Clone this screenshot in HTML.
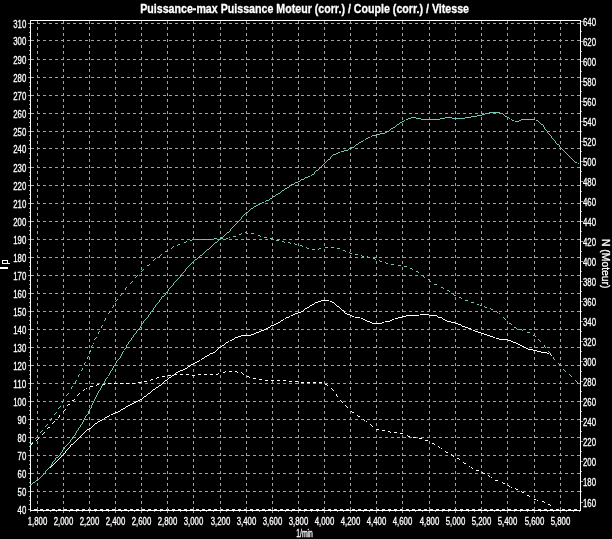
<!DOCTYPE html><html><head><meta charset="utf-8"><style>html,body{margin:0;padding:0;background:#000;}svg{display:block;}</style></head><body>
<svg width="612" height="539" viewBox="0 0 612 539" style="font-family:'Liberation Sans', sans-serif">
<rect width="612" height="539" fill="#000"/>
<g shape-rendering="crispEdges" stroke="#a0a0a0" stroke-width="1" stroke-dasharray="3 3" fill="none">
<line x1="31" y1="491.5" x2="580" y2="491.5"/>
<line x1="31" y1="473.5" x2="580" y2="473.5"/>
<line x1="31" y1="455.5" x2="580" y2="455.5"/>
<line x1="31" y1="437.5" x2="580" y2="437.5"/>
<line x1="31" y1="419.5" x2="580" y2="419.5"/>
<line x1="31" y1="401.5" x2="580" y2="401.5"/>
<line x1="31" y1="383.5" x2="580" y2="383.5"/>
<line x1="31" y1="365.5" x2="580" y2="365.5"/>
<line x1="31" y1="347.5" x2="580" y2="347.5"/>
<line x1="31" y1="329.5" x2="580" y2="329.5"/>
<line x1="31" y1="311.5" x2="580" y2="311.5"/>
<line x1="31" y1="293.5" x2="580" y2="293.5"/>
<line x1="31" y1="275.5" x2="580" y2="275.5"/>
<line x1="31" y1="257.5" x2="580" y2="257.5"/>
<line x1="31" y1="239.5" x2="580" y2="239.5"/>
<line x1="31" y1="221.5" x2="580" y2="221.5"/>
<line x1="31" y1="203.5" x2="580" y2="203.5"/>
<line x1="31" y1="185.5" x2="580" y2="185.5"/>
<line x1="31" y1="167.5" x2="580" y2="167.5"/>
<line x1="31" y1="148.5" x2="580" y2="148.5"/>
<line x1="31" y1="131.5" x2="580" y2="131.5"/>
<line x1="31" y1="113.5" x2="580" y2="113.5"/>
<line x1="31" y1="95.5" x2="580" y2="95.5"/>
<line x1="31" y1="77.5" x2="580" y2="77.5"/>
<line x1="31" y1="59.5" x2="580" y2="59.5"/>
<line x1="31" y1="40.5" x2="580" y2="40.5"/>
<line x1="31" y1="23.5" x2="580" y2="23.5"/>
<line x1="34" y1="509.5" x2="580" y2="509.5" stroke="#e8e8e8"/>
<line x1="37.5" y1="21" x2="37.5" y2="510"/>
<line x1="63.5" y1="21" x2="63.5" y2="510"/>
<line x1="89.5" y1="21" x2="89.5" y2="510"/>
<line x1="115.5" y1="21" x2="115.5" y2="510"/>
<line x1="141.5" y1="21" x2="141.5" y2="510"/>
<line x1="167.5" y1="21" x2="167.5" y2="510"/>
<line x1="193.5" y1="21" x2="193.5" y2="510"/>
<line x1="220.5" y1="21" x2="220.5" y2="510"/>
<line x1="246.5" y1="21" x2="246.5" y2="510"/>
<line x1="272.5" y1="21" x2="272.5" y2="510"/>
<line x1="298.5" y1="21" x2="298.5" y2="510"/>
<line x1="324.5" y1="21" x2="324.5" y2="510"/>
<line x1="350.5" y1="21" x2="350.5" y2="510"/>
<line x1="376.5" y1="21" x2="376.5" y2="510"/>
<line x1="402.5" y1="21" x2="402.5" y2="510"/>
<line x1="429.5" y1="21" x2="429.5" y2="510"/>
<line x1="455.5" y1="21" x2="455.5" y2="510"/>
<line x1="481.5" y1="21" x2="481.5" y2="510"/>
<line x1="507.5" y1="21" x2="507.5" y2="510"/>
<line x1="534.5" y1="21" x2="534.5" y2="510"/>
<line x1="560.5" y1="21" x2="560.5" y2="510"/>
</g>
<g shape-rendering="crispEdges" stroke="#ffffff" stroke-width="1" fill="none">
<line x1="30" y1="20.5" x2="581" y2="20.5"/>
<line x1="30" y1="510.5" x2="581" y2="510.5"/>
<line x1="30.5" y1="20" x2="30.5" y2="511"/>
<line x1="580.5" y1="20" x2="580.5" y2="511"/>
</g>
<g shape-rendering="crispEdges" stroke="#a0a0a0" stroke-width="1" fill="none">
<line x1="28" y1="509.5" x2="30" y2="509.5"/>
<line x1="29" y1="504.5" x2="30" y2="504.5"/>
<line x1="29" y1="500.5" x2="30" y2="500.5"/>
<line x1="29" y1="496.5" x2="30" y2="496.5"/>
<line x1="28" y1="491.5" x2="30" y2="491.5"/>
<line x1="29" y1="486.5" x2="30" y2="486.5"/>
<line x1="29" y1="482.5" x2="30" y2="482.5"/>
<line x1="29" y1="478.5" x2="30" y2="478.5"/>
<line x1="28" y1="473.5" x2="30" y2="473.5"/>
<line x1="29" y1="468.5" x2="30" y2="468.5"/>
<line x1="29" y1="464.5" x2="30" y2="464.5"/>
<line x1="29" y1="460.5" x2="30" y2="460.5"/>
<line x1="28" y1="455.5" x2="30" y2="455.5"/>
<line x1="29" y1="450.5" x2="30" y2="450.5"/>
<line x1="29" y1="446.5" x2="30" y2="446.5"/>
<line x1="29" y1="442.5" x2="30" y2="442.5"/>
<line x1="28" y1="437.5" x2="30" y2="437.5"/>
<line x1="29" y1="432.5" x2="30" y2="432.5"/>
<line x1="29" y1="428.5" x2="30" y2="428.5"/>
<line x1="29" y1="424.5" x2="30" y2="424.5"/>
<line x1="28" y1="419.5" x2="30" y2="419.5"/>
<line x1="29" y1="414.5" x2="30" y2="414.5"/>
<line x1="29" y1="410.5" x2="30" y2="410.5"/>
<line x1="29" y1="406.5" x2="30" y2="406.5"/>
<line x1="28" y1="401.5" x2="30" y2="401.5"/>
<line x1="29" y1="396.5" x2="30" y2="396.5"/>
<line x1="29" y1="392.5" x2="30" y2="392.5"/>
<line x1="29" y1="388.5" x2="30" y2="388.5"/>
<line x1="28" y1="383.5" x2="30" y2="383.5"/>
<line x1="29" y1="378.5" x2="30" y2="378.5"/>
<line x1="29" y1="374.5" x2="30" y2="374.5"/>
<line x1="29" y1="370.5" x2="30" y2="370.5"/>
<line x1="28" y1="365.5" x2="30" y2="365.5"/>
<line x1="29" y1="360.5" x2="30" y2="360.5"/>
<line x1="29" y1="356.5" x2="30" y2="356.5"/>
<line x1="29" y1="352.5" x2="30" y2="352.5"/>
<line x1="28" y1="347.5" x2="30" y2="347.5"/>
<line x1="29" y1="342.5" x2="30" y2="342.5"/>
<line x1="29" y1="338.5" x2="30" y2="338.5"/>
<line x1="29" y1="334.5" x2="30" y2="334.5"/>
<line x1="28" y1="329.5" x2="30" y2="329.5"/>
<line x1="29" y1="324.5" x2="30" y2="324.5"/>
<line x1="29" y1="320.5" x2="30" y2="320.5"/>
<line x1="29" y1="316.5" x2="30" y2="316.5"/>
<line x1="28" y1="311.5" x2="30" y2="311.5"/>
<line x1="29" y1="306.5" x2="30" y2="306.5"/>
<line x1="29" y1="302.5" x2="30" y2="302.5"/>
<line x1="29" y1="298.5" x2="30" y2="298.5"/>
<line x1="28" y1="293.5" x2="30" y2="293.5"/>
<line x1="29" y1="288.5" x2="30" y2="288.5"/>
<line x1="29" y1="284.5" x2="30" y2="284.5"/>
<line x1="29" y1="280.5" x2="30" y2="280.5"/>
<line x1="28" y1="275.5" x2="30" y2="275.5"/>
<line x1="29" y1="270.5" x2="30" y2="270.5"/>
<line x1="29" y1="266.5" x2="30" y2="266.5"/>
<line x1="29" y1="262.5" x2="30" y2="262.5"/>
<line x1="28" y1="257.5" x2="30" y2="257.5"/>
<line x1="29" y1="252.5" x2="30" y2="252.5"/>
<line x1="29" y1="248.5" x2="30" y2="248.5"/>
<line x1="29" y1="244.5" x2="30" y2="244.5"/>
<line x1="28" y1="239.5" x2="30" y2="239.5"/>
<line x1="29" y1="234.5" x2="30" y2="234.5"/>
<line x1="29" y1="230.5" x2="30" y2="230.5"/>
<line x1="29" y1="226.5" x2="30" y2="226.5"/>
<line x1="28" y1="221.5" x2="30" y2="221.5"/>
<line x1="29" y1="216.5" x2="30" y2="216.5"/>
<line x1="29" y1="212.5" x2="30" y2="212.5"/>
<line x1="29" y1="208.5" x2="30" y2="208.5"/>
<line x1="28" y1="203.5" x2="30" y2="203.5"/>
<line x1="29" y1="198.5" x2="30" y2="198.5"/>
<line x1="29" y1="194.5" x2="30" y2="194.5"/>
<line x1="29" y1="190.5" x2="30" y2="190.5"/>
<line x1="28" y1="185.5" x2="30" y2="185.5"/>
<line x1="29" y1="180.5" x2="30" y2="180.5"/>
<line x1="29" y1="176.5" x2="30" y2="176.5"/>
<line x1="29" y1="172.5" x2="30" y2="172.5"/>
<line x1="28" y1="167.5" x2="30" y2="167.5"/>
<line x1="29" y1="162.5" x2="30" y2="162.5"/>
<line x1="29" y1="158.5" x2="30" y2="158.5"/>
<line x1="29" y1="153.5" x2="30" y2="153.5"/>
<line x1="28" y1="148.5" x2="30" y2="148.5"/>
<line x1="29" y1="144.5" x2="30" y2="144.5"/>
<line x1="29" y1="140.5" x2="30" y2="140.5"/>
<line x1="29" y1="135.5" x2="30" y2="135.5"/>
<line x1="28" y1="131.5" x2="30" y2="131.5"/>
<line x1="29" y1="126.5" x2="30" y2="126.5"/>
<line x1="29" y1="122.5" x2="30" y2="122.5"/>
<line x1="29" y1="118.5" x2="30" y2="118.5"/>
<line x1="28" y1="113.5" x2="30" y2="113.5"/>
<line x1="29" y1="108.5" x2="30" y2="108.5"/>
<line x1="29" y1="104.5" x2="30" y2="104.5"/>
<line x1="29" y1="100.5" x2="30" y2="100.5"/>
<line x1="28" y1="95.5" x2="30" y2="95.5"/>
<line x1="29" y1="90.5" x2="30" y2="90.5"/>
<line x1="29" y1="86.5" x2="30" y2="86.5"/>
<line x1="29" y1="82.5" x2="30" y2="82.5"/>
<line x1="28" y1="77.5" x2="30" y2="77.5"/>
<line x1="29" y1="72.5" x2="30" y2="72.5"/>
<line x1="29" y1="68.5" x2="30" y2="68.5"/>
<line x1="29" y1="64.5" x2="30" y2="64.5"/>
<line x1="28" y1="59.5" x2="30" y2="59.5"/>
<line x1="29" y1="54.5" x2="30" y2="54.5"/>
<line x1="29" y1="50.5" x2="30" y2="50.5"/>
<line x1="29" y1="45.5" x2="30" y2="45.5"/>
<line x1="28" y1="40.5" x2="30" y2="40.5"/>
<line x1="29" y1="36.5" x2="30" y2="36.5"/>
<line x1="29" y1="32.5" x2="30" y2="32.5"/>
<line x1="29" y1="27.5" x2="30" y2="27.5"/>
<line x1="28" y1="23.5" x2="30" y2="23.5"/>
<line x1="581" y1="21.5" x2="583" y2="21.5"/>
<line x1="581" y1="31.5" x2="582" y2="31.5"/>
<line x1="581" y1="41.5" x2="583" y2="41.5"/>
<line x1="581" y1="51.5" x2="582" y2="51.5"/>
<line x1="581" y1="61.5" x2="583" y2="61.5"/>
<line x1="581" y1="71.5" x2="582" y2="71.5"/>
<line x1="581" y1="81.5" x2="583" y2="81.5"/>
<line x1="581" y1="91.5" x2="582" y2="91.5"/>
<line x1="581" y1="101.5" x2="583" y2="101.5"/>
<line x1="581" y1="111.5" x2="582" y2="111.5"/>
<line x1="581" y1="121.5" x2="583" y2="121.5"/>
<line x1="581" y1="131.5" x2="582" y2="131.5"/>
<line x1="581" y1="141.5" x2="583" y2="141.5"/>
<line x1="581" y1="151.5" x2="582" y2="151.5"/>
<line x1="581" y1="161.5" x2="583" y2="161.5"/>
<line x1="581" y1="171.5" x2="582" y2="171.5"/>
<line x1="581" y1="181.5" x2="583" y2="181.5"/>
<line x1="581" y1="191.5" x2="582" y2="191.5"/>
<line x1="581" y1="201.5" x2="583" y2="201.5"/>
<line x1="581" y1="211.5" x2="582" y2="211.5"/>
<line x1="581" y1="221.5" x2="583" y2="221.5"/>
<line x1="581" y1="231.5" x2="582" y2="231.5"/>
<line x1="581" y1="241.5" x2="583" y2="241.5"/>
<line x1="581" y1="251.5" x2="582" y2="251.5"/>
<line x1="581" y1="261.5" x2="583" y2="261.5"/>
<line x1="581" y1="271.5" x2="582" y2="271.5"/>
<line x1="581" y1="281.5" x2="583" y2="281.5"/>
<line x1="581" y1="291.5" x2="582" y2="291.5"/>
<line x1="581" y1="301.5" x2="583" y2="301.5"/>
<line x1="581" y1="311.5" x2="582" y2="311.5"/>
<line x1="581" y1="321.5" x2="583" y2="321.5"/>
<line x1="581" y1="331.5" x2="582" y2="331.5"/>
<line x1="581" y1="341.5" x2="583" y2="341.5"/>
<line x1="581" y1="351.5" x2="582" y2="351.5"/>
<line x1="581" y1="361.5" x2="583" y2="361.5"/>
<line x1="581" y1="371.5" x2="582" y2="371.5"/>
<line x1="581" y1="381.5" x2="583" y2="381.5"/>
<line x1="581" y1="391.5" x2="582" y2="391.5"/>
<line x1="581" y1="401.5" x2="583" y2="401.5"/>
<line x1="581" y1="411.5" x2="582" y2="411.5"/>
<line x1="581" y1="421.5" x2="583" y2="421.5"/>
<line x1="581" y1="431.5" x2="582" y2="431.5"/>
<line x1="581" y1="441.5" x2="583" y2="441.5"/>
<line x1="581" y1="451.5" x2="582" y2="451.5"/>
<line x1="581" y1="461.5" x2="583" y2="461.5"/>
<line x1="581" y1="471.5" x2="582" y2="471.5"/>
<line x1="581" y1="481.5" x2="583" y2="481.5"/>
<line x1="581" y1="491.5" x2="582" y2="491.5"/>
<line x1="581" y1="502.5" x2="583" y2="502.5"/>
<line x1="30.5" y1="511" x2="30.5" y2="512"/>
<line x1="37.5" y1="511" x2="37.5" y2="513"/>
<line x1="43.5" y1="511" x2="43.5" y2="512"/>
<line x1="50.5" y1="511" x2="50.5" y2="512"/>
<line x1="56.5" y1="511" x2="56.5" y2="512"/>
<line x1="63.5" y1="511" x2="63.5" y2="513"/>
<line x1="69.5" y1="511" x2="69.5" y2="512"/>
<line x1="76.5" y1="511" x2="76.5" y2="512"/>
<line x1="82.5" y1="511" x2="82.5" y2="512"/>
<line x1="89.5" y1="511" x2="89.5" y2="513"/>
<line x1="95.5" y1="511" x2="95.5" y2="512"/>
<line x1="102.5" y1="511" x2="102.5" y2="512"/>
<line x1="108.5" y1="511" x2="108.5" y2="512"/>
<line x1="115.5" y1="511" x2="115.5" y2="513"/>
<line x1="121.5" y1="511" x2="121.5" y2="512"/>
<line x1="128.5" y1="511" x2="128.5" y2="512"/>
<line x1="134.5" y1="511" x2="134.5" y2="512"/>
<line x1="141.5" y1="511" x2="141.5" y2="513"/>
<line x1="147.5" y1="511" x2="147.5" y2="512"/>
<line x1="154.5" y1="511" x2="154.5" y2="512"/>
<line x1="160.5" y1="511" x2="160.5" y2="512"/>
<line x1="167.5" y1="511" x2="167.5" y2="513"/>
<line x1="173.5" y1="511" x2="173.5" y2="512"/>
<line x1="180.5" y1="511" x2="180.5" y2="512"/>
<line x1="186.5" y1="511" x2="186.5" y2="512"/>
<line x1="193.5" y1="511" x2="193.5" y2="513"/>
<line x1="200.5" y1="511" x2="200.5" y2="512"/>
<line x1="206.5" y1="511" x2="206.5" y2="512"/>
<line x1="213.5" y1="511" x2="213.5" y2="512"/>
<line x1="220.5" y1="511" x2="220.5" y2="513"/>
<line x1="226.5" y1="511" x2="226.5" y2="512"/>
<line x1="233.5" y1="511" x2="233.5" y2="512"/>
<line x1="239.5" y1="511" x2="239.5" y2="512"/>
<line x1="246.5" y1="511" x2="246.5" y2="513"/>
<line x1="252.5" y1="511" x2="252.5" y2="512"/>
<line x1="259.5" y1="511" x2="259.5" y2="512"/>
<line x1="265.5" y1="511" x2="265.5" y2="512"/>
<line x1="272.5" y1="511" x2="272.5" y2="513"/>
<line x1="278.5" y1="511" x2="278.5" y2="512"/>
<line x1="285.5" y1="511" x2="285.5" y2="512"/>
<line x1="291.5" y1="511" x2="291.5" y2="512"/>
<line x1="298.5" y1="511" x2="298.5" y2="513"/>
<line x1="304.5" y1="511" x2="304.5" y2="512"/>
<line x1="311.5" y1="511" x2="311.5" y2="512"/>
<line x1="317.5" y1="511" x2="317.5" y2="512"/>
<line x1="324.5" y1="511" x2="324.5" y2="513"/>
<line x1="330.5" y1="511" x2="330.5" y2="512"/>
<line x1="337.5" y1="511" x2="337.5" y2="512"/>
<line x1="343.5" y1="511" x2="343.5" y2="512"/>
<line x1="350.5" y1="511" x2="350.5" y2="513"/>
<line x1="356.5" y1="511" x2="356.5" y2="512"/>
<line x1="363.5" y1="511" x2="363.5" y2="512"/>
<line x1="369.5" y1="511" x2="369.5" y2="512"/>
<line x1="376.5" y1="511" x2="376.5" y2="513"/>
<line x1="382.5" y1="511" x2="382.5" y2="512"/>
<line x1="389.5" y1="511" x2="389.5" y2="512"/>
<line x1="395.5" y1="511" x2="395.5" y2="512"/>
<line x1="402.5" y1="511" x2="402.5" y2="513"/>
<line x1="409.5" y1="511" x2="409.5" y2="512"/>
<line x1="415.5" y1="511" x2="415.5" y2="512"/>
<line x1="422.5" y1="511" x2="422.5" y2="512"/>
<line x1="429.5" y1="511" x2="429.5" y2="513"/>
<line x1="435.5" y1="511" x2="435.5" y2="512"/>
<line x1="442.5" y1="511" x2="442.5" y2="512"/>
<line x1="448.5" y1="511" x2="448.5" y2="512"/>
<line x1="455.5" y1="511" x2="455.5" y2="513"/>
<line x1="461.5" y1="511" x2="461.5" y2="512"/>
<line x1="468.5" y1="511" x2="468.5" y2="512"/>
<line x1="474.5" y1="511" x2="474.5" y2="512"/>
<line x1="481.5" y1="511" x2="481.5" y2="513"/>
<line x1="487.5" y1="511" x2="487.5" y2="512"/>
<line x1="494.5" y1="511" x2="494.5" y2="512"/>
<line x1="500.5" y1="511" x2="500.5" y2="512"/>
<line x1="507.5" y1="511" x2="507.5" y2="513"/>
<line x1="514.5" y1="511" x2="514.5" y2="512"/>
<line x1="520.5" y1="511" x2="520.5" y2="512"/>
<line x1="527.5" y1="511" x2="527.5" y2="512"/>
<line x1="534.5" y1="511" x2="534.5" y2="513"/>
<line x1="540.5" y1="511" x2="540.5" y2="512"/>
<line x1="547.5" y1="511" x2="547.5" y2="512"/>
<line x1="553.5" y1="511" x2="553.5" y2="512"/>
<line x1="560.5" y1="511" x2="560.5" y2="513"/>
<line x1="566.5" y1="511" x2="566.5" y2="512"/>
<line x1="573.5" y1="511" x2="573.5" y2="512"/>
<line x1="579.5" y1="511" x2="579.5" y2="512"/>
</g>
<g fill="#ffffff" font-size="11" stroke="#fff" stroke-width="0.3" style="filter:grayscale(1)">
<text x="26.3" y="514.2" text-anchor="end" textLength="8.68" lengthAdjust="spacingAndGlyphs">40</text>
<text x="26.3" y="496.2" text-anchor="end" textLength="8.68" lengthAdjust="spacingAndGlyphs">50</text>
<text x="26.3" y="478.2" text-anchor="end" textLength="8.68" lengthAdjust="spacingAndGlyphs">60</text>
<text x="26.3" y="460.2" text-anchor="end" textLength="8.68" lengthAdjust="spacingAndGlyphs">70</text>
<text x="26.3" y="442.2" text-anchor="end" textLength="8.68" lengthAdjust="spacingAndGlyphs">80</text>
<text x="26.3" y="424.2" text-anchor="end" textLength="8.68" lengthAdjust="spacingAndGlyphs">90</text>
<text x="26.3" y="406.2" text-anchor="end" textLength="13.03" lengthAdjust="spacingAndGlyphs">100</text>
<text x="26.3" y="388.2" text-anchor="end" textLength="13.03" lengthAdjust="spacingAndGlyphs">110</text>
<text x="26.3" y="370.2" text-anchor="end" textLength="13.03" lengthAdjust="spacingAndGlyphs">120</text>
<text x="26.3" y="352.2" text-anchor="end" textLength="13.03" lengthAdjust="spacingAndGlyphs">130</text>
<text x="26.3" y="334.2" text-anchor="end" textLength="13.03" lengthAdjust="spacingAndGlyphs">140</text>
<text x="26.3" y="316.2" text-anchor="end" textLength="13.03" lengthAdjust="spacingAndGlyphs">150</text>
<text x="26.3" y="298.2" text-anchor="end" textLength="13.03" lengthAdjust="spacingAndGlyphs">160</text>
<text x="26.3" y="280.2" text-anchor="end" textLength="13.03" lengthAdjust="spacingAndGlyphs">170</text>
<text x="26.3" y="262.2" text-anchor="end" textLength="13.03" lengthAdjust="spacingAndGlyphs">180</text>
<text x="26.3" y="244.2" text-anchor="end" textLength="13.03" lengthAdjust="spacingAndGlyphs">190</text>
<text x="26.3" y="226.2" text-anchor="end" textLength="13.03" lengthAdjust="spacingAndGlyphs">200</text>
<text x="26.3" y="208.2" text-anchor="end" textLength="13.03" lengthAdjust="spacingAndGlyphs">210</text>
<text x="26.3" y="190.2" text-anchor="end" textLength="13.03" lengthAdjust="spacingAndGlyphs">220</text>
<text x="26.3" y="172.2" text-anchor="end" textLength="13.03" lengthAdjust="spacingAndGlyphs">230</text>
<text x="26.3" y="153.2" text-anchor="end" textLength="13.03" lengthAdjust="spacingAndGlyphs">240</text>
<text x="26.3" y="136.2" text-anchor="end" textLength="13.03" lengthAdjust="spacingAndGlyphs">250</text>
<text x="26.3" y="118.2" text-anchor="end" textLength="13.03" lengthAdjust="spacingAndGlyphs">260</text>
<text x="26.3" y="100.2" text-anchor="end" textLength="13.03" lengthAdjust="spacingAndGlyphs">270</text>
<text x="26.3" y="82.2" text-anchor="end" textLength="13.03" lengthAdjust="spacingAndGlyphs">280</text>
<text x="26.3" y="64.2" text-anchor="end" textLength="13.03" lengthAdjust="spacingAndGlyphs">290</text>
<text x="26.3" y="45.2" text-anchor="end" textLength="13.03" lengthAdjust="spacingAndGlyphs">300</text>
<text x="26.3" y="28.2" text-anchor="end" textLength="13.03" lengthAdjust="spacingAndGlyphs">310</text>
<text x="583" y="25.9" textLength="13.03" lengthAdjust="spacingAndGlyphs">640</text>
<text x="583" y="45.9" textLength="13.03" lengthAdjust="spacingAndGlyphs">620</text>
<text x="583" y="65.9" textLength="13.03" lengthAdjust="spacingAndGlyphs">600</text>
<text x="583" y="85.9" textLength="13.03" lengthAdjust="spacingAndGlyphs">580</text>
<text x="583" y="105.9" textLength="13.03" lengthAdjust="spacingAndGlyphs">560</text>
<text x="583" y="125.9" textLength="13.03" lengthAdjust="spacingAndGlyphs">540</text>
<text x="583" y="145.9" textLength="13.03" lengthAdjust="spacingAndGlyphs">520</text>
<text x="583" y="165.9" textLength="13.03" lengthAdjust="spacingAndGlyphs">500</text>
<text x="583" y="185.9" textLength="13.03" lengthAdjust="spacingAndGlyphs">480</text>
<text x="583" y="205.9" textLength="13.03" lengthAdjust="spacingAndGlyphs">460</text>
<text x="583" y="225.9" textLength="13.03" lengthAdjust="spacingAndGlyphs">440</text>
<text x="583" y="245.9" textLength="13.03" lengthAdjust="spacingAndGlyphs">420</text>
<text x="583" y="265.9" textLength="13.03" lengthAdjust="spacingAndGlyphs">400</text>
<text x="583" y="285.9" textLength="13.03" lengthAdjust="spacingAndGlyphs">380</text>
<text x="583" y="305.9" textLength="13.03" lengthAdjust="spacingAndGlyphs">360</text>
<text x="583" y="325.9" textLength="13.03" lengthAdjust="spacingAndGlyphs">340</text>
<text x="583" y="345.9" textLength="13.03" lengthAdjust="spacingAndGlyphs">320</text>
<text x="583" y="365.9" textLength="13.03" lengthAdjust="spacingAndGlyphs">300</text>
<text x="583" y="385.9" textLength="13.03" lengthAdjust="spacingAndGlyphs">280</text>
<text x="583" y="405.9" textLength="13.03" lengthAdjust="spacingAndGlyphs">260</text>
<text x="583" y="425.9" textLength="13.03" lengthAdjust="spacingAndGlyphs">240</text>
<text x="583" y="445.9" textLength="13.03" lengthAdjust="spacingAndGlyphs">220</text>
<text x="583" y="465.9" textLength="13.03" lengthAdjust="spacingAndGlyphs">200</text>
<text x="583" y="485.9" textLength="13.03" lengthAdjust="spacingAndGlyphs">180</text>
<text x="583" y="506.9" textLength="13.03" lengthAdjust="spacingAndGlyphs">160</text>
<text x="37.5" y="525.3" text-anchor="middle" textLength="19.54" lengthAdjust="spacingAndGlyphs">1,800</text>
<text x="63.5" y="525.3" text-anchor="middle" textLength="19.54" lengthAdjust="spacingAndGlyphs">2,000</text>
<text x="89.5" y="525.3" text-anchor="middle" textLength="19.54" lengthAdjust="spacingAndGlyphs">2,200</text>
<text x="115.5" y="525.3" text-anchor="middle" textLength="19.54" lengthAdjust="spacingAndGlyphs">2,400</text>
<text x="141.5" y="525.3" text-anchor="middle" textLength="19.54" lengthAdjust="spacingAndGlyphs">2,600</text>
<text x="167.5" y="525.3" text-anchor="middle" textLength="19.54" lengthAdjust="spacingAndGlyphs">2,800</text>
<text x="193.5" y="525.3" text-anchor="middle" textLength="19.54" lengthAdjust="spacingAndGlyphs">3,000</text>
<text x="220.5" y="525.3" text-anchor="middle" textLength="19.54" lengthAdjust="spacingAndGlyphs">3,200</text>
<text x="246.5" y="525.3" text-anchor="middle" textLength="19.54" lengthAdjust="spacingAndGlyphs">3,400</text>
<text x="272.5" y="525.3" text-anchor="middle" textLength="19.54" lengthAdjust="spacingAndGlyphs">3,600</text>
<text x="298.5" y="525.3" text-anchor="middle" textLength="19.54" lengthAdjust="spacingAndGlyphs">3,800</text>
<text x="324.5" y="525.3" text-anchor="middle" textLength="19.54" lengthAdjust="spacingAndGlyphs">4,000</text>
<text x="350.5" y="525.3" text-anchor="middle" textLength="19.54" lengthAdjust="spacingAndGlyphs">4,200</text>
<text x="376.5" y="525.3" text-anchor="middle" textLength="19.54" lengthAdjust="spacingAndGlyphs">4,400</text>
<text x="402.5" y="525.3" text-anchor="middle" textLength="19.54" lengthAdjust="spacingAndGlyphs">4,600</text>
<text x="429.5" y="525.3" text-anchor="middle" textLength="19.54" lengthAdjust="spacingAndGlyphs">4,800</text>
<text x="455.5" y="525.3" text-anchor="middle" textLength="19.54" lengthAdjust="spacingAndGlyphs">5,000</text>
<text x="481.5" y="525.3" text-anchor="middle" textLength="19.54" lengthAdjust="spacingAndGlyphs">5,200</text>
<text x="507.5" y="525.3" text-anchor="middle" textLength="19.54" lengthAdjust="spacingAndGlyphs">5,400</text>
<text x="534.5" y="525.3" text-anchor="middle" textLength="19.54" lengthAdjust="spacingAndGlyphs">5,600</text>
<text x="560.5" y="525.3" text-anchor="middle" textLength="19.54" lengthAdjust="spacingAndGlyphs">5,800</text>
<text x="304.6" y="537.2" text-anchor="middle" textLength="16.6" lengthAdjust="spacingAndGlyphs">1/min</text>
<text x="140.2" y="12.9" fill="#ffffff" font-size="12.6" font-weight="bold" textLength="328.8" lengthAdjust="spacingAndGlyphs">Puissance-max Puissance Moteur (corr.) / Couple (corr.) / Vitesse</text>
<text transform="translate(602.2,239) rotate(90)" fill="#ffffff" font-size="11" textLength="49.5" lengthAdjust="spacingAndGlyphs">N (Moteur)</text>
</g>
<g shape-rendering="crispEdges" fill="none" stroke="#fff" stroke-width="1"><path d="M2.5 263.5V260.5H7.5V263.5M2.5 263.5H10"/><rect x="0" y="267" width="8" height="2" fill="#fff" stroke="none"/></g>
<g shape-rendering="crispEdges" stroke="none">
<path fill="#ffffff" d="M225 371h1v1h-1zM229 371h3v1h-3zM235 371h2v1h-2zM223 372h2v1h-2zM237 372h1v1h-1zM241 372h1v1h-1zM218 373h1v1h-1zM242 373h1v1h-1zM174 374h3v1h-3zM180 374h3v1h-3zM186 374h3v1h-3zM198 374h3v1h-3zM204 374h3v1h-3zM210 374h3v1h-3zM216 374h2v1h-2zM243 374h1v1h-1zM168 375h3v1h-3zM192 375h3v1h-3zM162 376h3v1h-3zM247 376h2v1h-2zM157 377h2v1h-2zM249 377h1v1h-1zM156 378h1v1h-1zM253 378h3v1h-3zM151 379h2v1h-2zM259 379h3v1h-3zM150 380h1v1h-1zM265 380h3v1h-3zM271 380h3v1h-3zM277 380h3v1h-3zM283 380h3v1h-3zM144 381h3v1h-3zM289 381h3v1h-3zM295 381h3v1h-3zM138 382h3v1h-3zM301 382h3v1h-3zM307 382h3v1h-3zM313 382h3v1h-3zM319 382h3v1h-3zM108 383h3v1h-3zM114 383h3v1h-3zM120 383h3v1h-3zM126 383h3v1h-3zM132 383h3v1h-3zM97 384h2v1h-2zM102 384h3v1h-3zM325 384h2v1h-2zM96 385h1v1h-1zM327 385h1v1h-1zM90 386h3v1h-3zM86 388h1v1h-1zM331 388h1v1h-1zM84 389h1v1h-1zM332 389h1v1h-1zM83 390h1v1h-1zM333 390h1v1h-1zM79 393h1v1h-1zM78 394h1v1h-1zM336 394h1v1h-1zM77 395h1v1h-1zM336 395h1v1h-1zM337 396h1v1h-1zM74 399h1v1h-1zM72 400h2v1h-2zM340 400h1v1h-1zM341 401h1v1h-1zM342 402h1v1h-1zM68 404h2v1h-2zM67 405h1v1h-1zM345 405h1v1h-1zM346 406h1v1h-1zM347 407h1v1h-1zM65 409h1v1h-1zM64 410h1v1h-1zM63 411h1v1h-1zM351 411h1v1h-1zM352 412h2v1h-2zM59 415h1v1h-1zM357 415h1v1h-1zM59 416h1v1h-1zM358 416h2v1h-2zM58 417h1v1h-1zM363 419h1v1h-1zM364 420h1v1h-1zM54 421h1v1h-1zM366 421h1v1h-1zM53 422h1v1h-1zM52 423h1v1h-1zM370 424h1v1h-1zM371 425h1v1h-1zM372 426h1v1h-1zM48 427h2v1h-2zM47 428h1v1h-1zM376 429h3v1h-3zM382 430h3v1h-3zM388 431h2v1h-2zM44 432h1v1h-1zM390 432h1v1h-1zM394 432h3v1h-3zM43 433h1v1h-1zM400 433h3v1h-3zM42 434h1v1h-1zM407 435h1v1h-1zM408 436h2v1h-2zM413 437h3v1h-3zM38 438h1v1h-1zM419 438h3v1h-3zM37 439h1v1h-1zM36 440h1v1h-1zM425 440h3v1h-3zM32 443h1v1h-1zM432 443h2v1h-2zM30 444h2v1h-2zM434 444h1v1h-1zM438 446h1v1h-1zM439 447h1v1h-1zM441 448h1v1h-1zM445 451h1v1h-1zM446 452h2v1h-2zM451 454h1v1h-1zM452 455h1v1h-1zM453 456h1v1h-1zM457 458h2v1h-2zM459 459h1v1h-1zM463 462h1v1h-1zM464 463h2v1h-2zM469 466h1v1h-1zM471 467h1v1h-1zM472 468h1v1h-1zM476 470h3v1h-3zM482 472h1v1h-1zM483 473h2v1h-2zM488 475h1v1h-1zM489 476h1v1h-1zM491 477h1v1h-1zM495 480h3v1h-3zM502 482h1v1h-1zM503 483h2v1h-2zM508 485h1v1h-1zM509 486h1v1h-1zM511 487h1v1h-1zM515 488h1v1h-1zM516 489h2v1h-2zM521 491h1v1h-1zM522 492h2v1h-2zM527 495h2v1h-2zM529 496h1v1h-1zM534 499h2v1h-2zM537 500h1v1h-1zM542 501h2v1h-2zM544 502h1v1h-1zM548 504h2v1h-2zM550 505h1v1h-1z"/>
<path fill="#74c6b8" d="M245 232h1v1h-1zM241 233h1v1h-1zM246 233h2v1h-2zM251 233h3v1h-3zM239 234h2v1h-2zM258 235h2v1h-2zM233 236h3v1h-3zM260 236h1v1h-1zM229 237h1v1h-1zM264 237h3v1h-3zM214 238h3v1h-3zM220 238h3v1h-3zM226 238h2v1h-2zM270 238h2v1h-2zM192 239h1v1h-1zM196 239h3v1h-3zM202 239h3v1h-3zM208 239h3v1h-3zM272 239h1v1h-1zM190 240h2v1h-2zM276 240h3v1h-3zM186 241h1v1h-1zM282 241h2v1h-2zM184 242h2v1h-2zM284 242h1v1h-1zM288 242h2v1h-2zM290 243h1v1h-1zM294 243h1v1h-1zM178 244h2v1h-2zM295 244h2v1h-2zM177 245h1v1h-1zM300 245h2v1h-2zM173 246h1v1h-1zM302 246h1v1h-1zM172 247h1v1h-1zM306 247h1v1h-1zM325 247h3v1h-3zM331 247h3v1h-3zM171 248h1v1h-1zM307 248h2v1h-2zM319 248h2v1h-2zM337 248h3v1h-3zM312 249h3v1h-3zM318 249h1v1h-1zM167 250h1v1h-1zM343 250h2v1h-2zM165 251h2v1h-2zM345 251h1v1h-1zM349 252h1v1h-1zM350 253h2v1h-2zM161 254h1v1h-1zM355 254h3v1h-3zM160 255h1v1h-1zM361 255h1v1h-1zM159 256h1v1h-1zM362 256h2v1h-2zM367 256h1v1h-1zM368 257h2v1h-2zM155 258h1v1h-1zM373 258h2v1h-2zM154 259h1v1h-1zM375 259h1v1h-1zM153 260h1v1h-1zM379 260h1v1h-1zM380 261h2v1h-2zM385 262h1v1h-1zM386 263h2v1h-2zM149 264h1v1h-1zM391 264h3v1h-3zM147 265h2v1h-2zM398 265h3v1h-3zM404 266h3v1h-3zM410 268h2v1h-2zM143 269h1v1h-1zM412 269h1v1h-1zM142 270h1v1h-1zM141 271h1v1h-1zM416 271h2v1h-2zM418 272h1v1h-1zM137 275h1v1h-1zM422 275h1v1h-1zM136 276h1v1h-1zM423 276h1v1h-1zM135 277h1v1h-1zM424 277h1v1h-1zM428 279h1v1h-1zM429 280h1v1h-1zM132 281h1v1h-1zM430 281h1v1h-1zM131 282h1v1h-1zM130 283h1v1h-1zM434 284h3v1h-3zM126 287h1v1h-1zM441 287h2v1h-2zM125 288h1v1h-1zM443 288h1v1h-1zM125 289h1v1h-1zM447 290h2v1h-2zM449 291h1v1h-1zM122 293h1v1h-1zM121 294h1v1h-1zM453 294h1v1h-1zM120 295h1v1h-1zM454 295h2v1h-2zM459 297h2v1h-2zM461 298h1v1h-1zM117 299h1v1h-1zM116 300h1v1h-1zM465 300h3v1h-3zM115 301h1v1h-1zM471 302h3v1h-3zM477 304h2v1h-2zM113 305h1v1h-1zM480 305h1v1h-1zM113 306h1v1h-1zM484 306h1v1h-1zM112 307h1v1h-1zM485 307h2v1h-2zM490 308h1v1h-1zM491 309h2v1h-2zM109 311h1v1h-1zM496 311h1v1h-1zM109 312h1v1h-1zM497 312h1v1h-1zM108 313h1v1h-1zM499 313h1v1h-1zM503 317h1v1h-1zM105 318h1v1h-1zM504 318h1v1h-1zM105 319h1v1h-1zM505 319h1v1h-1zM104 320h1v1h-1zM509 323h2v1h-2zM511 324h1v1h-1zM102 325h1v1h-1zM101 326h1v1h-1zM101 327h1v1h-1zM514 327h2v1h-2zM516 328h1v1h-1zM520 329h2v1h-2zM522 330h1v1h-1zM99 331h1v1h-1zM98 332h1v1h-1zM527 332h3v1h-3zM98 333h1v1h-1zM533 335h2v1h-2zM535 336h1v1h-1zM96 337h1v1h-1zM95 338h1v1h-1zM94 339h1v1h-1zM538 339h1v1h-1zM539 340h1v1h-1zM540 341h1v1h-1zM93 343h1v1h-1zM92 345h1v1h-1zM544 345h1v1h-1zM91 346h1v1h-1zM544 346h1v1h-1zM545 347h1v1h-1zM90 350h1v1h-1zM90 351h1v1h-1zM548 351h1v1h-1zM89 352h1v1h-1zM549 352h1v1h-1zM550 353h1v1h-1zM88 356h1v1h-1zM87 357h1v1h-1zM553 357h1v1h-1zM87 358h1v1h-1zM553 358h1v1h-1zM554 359h1v1h-1zM85 362h1v1h-1zM84 363h1v1h-1zM558 363h1v1h-1zM84 364h1v1h-1zM559 364h1v1h-1zM559 365h1v1h-1zM82 368h1v1h-1zM82 369h1v1h-1zM563 369h1v1h-1zM81 370h1v1h-1zM564 370h1v1h-1zM565 371h1v1h-1zM79 374h1v1h-1zM569 374h1v1h-1zM78 375h1v1h-1zM570 375h1v1h-1zM78 376h1v1h-1zM571 376h1v1h-1zM76 380h1v1h-1zM575 380h1v1h-1zM75 381h1v1h-1zM576 381h1v1h-1zM75 382h1v1h-1zM577 382h1v1h-1zM72 386h1v1h-1zM71 387h1v1h-1zM71 388h1v1h-1zM68 393h1v1h-1zM67 394h1v1h-1zM66 395h1v1h-1zM63 400h1v1h-1zM63 401h1v1h-1zM62 402h1v1h-1zM60 406h1v1h-1zM59 407h1v1h-1zM58 408h1v1h-1zM56 412h1v1h-1zM55 413h1v1h-1zM54 414h1v1h-1zM51 418h1v1h-1zM51 419h1v1h-1zM50 420h1v1h-1zM47 424h1v1h-1zM46 425h1v1h-1zM45 426h1v1h-1zM42 430h1v1h-1zM41 431h1v1h-1zM40 432h1v1h-1zM37 436h1v1h-1zM36 437h1v1h-1zM35 438h1v1h-1zM32 442h1v1h-1zM31 443h1v1h-1zM30 444h1v1h-1z"/>
<path fill="#ffffff" d="M321 300h8v1h-8zM318 301h3v1h-3zM330 301h2v1h-2zM315 302h3v1h-3zM332 302h2v1h-2zM314 303h1v1h-1zM334 303h1v1h-1zM312 304h2v1h-2zM335 304h1v1h-1zM310 305h2v1h-2zM336 305h1v1h-1zM309 306h1v1h-1zM337 306h2v1h-2zM307 307h2v1h-2zM339 307h1v1h-1zM305 308h2v1h-2zM340 308h1v1h-1zM304 309h1v1h-1zM341 309h1v1h-1zM303 310h1v1h-1zM342 310h2v1h-2zM301 311h2v1h-2zM344 311h1v1h-1zM298 312h3v1h-3zM344 312h1v1h-1zM295 313h3v1h-3zM345 313h2v1h-2zM293 314h2v1h-2zM347 314h3v1h-3zM420 314h9v1h-9zM291 315h2v1h-2zM350 315h2v1h-2zM406 315h13v1h-13zM429 315h8v1h-8zM289 316h1v1h-1zM352 316h2v1h-2zM402 316h4v1h-4zM437 316h1v1h-1zM286 317h3v1h-3zM355 317h5v1h-5zM398 317h4v1h-4zM438 317h4v1h-4zM285 318h1v1h-1zM361 318h2v1h-2zM395 318h3v1h-3zM442 318h1v1h-1zM283 319h1v1h-1zM363 319h2v1h-2zM392 319h2v1h-2zM443 319h2v1h-2zM281 320h2v1h-2zM365 320h2v1h-2zM390 320h2v1h-2zM445 320h2v1h-2zM280 321h1v1h-1zM367 321h3v1h-3zM385 321h5v1h-5zM447 321h4v1h-4zM278 322h2v1h-2zM370 322h2v1h-2zM382 322h2v1h-2zM451 322h4v1h-4zM276 323h2v1h-2zM372 323h10v1h-10zM455 323h3v1h-3zM274 324h2v1h-2zM458 324h3v1h-3zM271 325h3v1h-3zM461 325h1v1h-1zM270 326h1v1h-1zM462 326h3v1h-3zM268 327h2v1h-2zM465 327h3v1h-3zM266 328h2v1h-2zM468 328h3v1h-3zM264 329h2v1h-2zM471 329h1v1h-1zM261 330h3v1h-3zM473 330h2v1h-2zM259 331h2v1h-2zM475 331h3v1h-3zM256 332h3v1h-3zM478 332h3v1h-3zM254 333h2v1h-2zM481 333h3v1h-3zM251 334h3v1h-3zM484 334h3v1h-3zM241 335h10v1h-10zM487 335h3v1h-3zM238 336h3v1h-3zM490 336h3v1h-3zM235 337h3v1h-3zM493 337h2v1h-2zM234 338h1v1h-1zM496 338h3v1h-3zM232 339h2v1h-2zM499 339h9v1h-9zM230 340h2v1h-2zM508 340h3v1h-3zM228 341h1v1h-1zM511 341h2v1h-2zM226 342h2v1h-2zM513 342h3v1h-3zM225 343h1v1h-1zM516 343h2v1h-2zM224 344h1v1h-1zM518 344h2v1h-2zM222 345h2v1h-2zM520 345h2v1h-2zM221 346h1v1h-1zM522 346h2v1h-2zM219 347h2v1h-2zM524 347h2v1h-2zM218 348h1v1h-1zM526 348h2v1h-2zM217 349h1v1h-1zM528 349h5v1h-5zM216 350h1v1h-1zM533 350h4v1h-4zM215 351h1v1h-1zM537 351h4v1h-4zM213 352h2v1h-2zM541 352h6v1h-6zM210 353h3v1h-3zM547 353h2v1h-2zM209 354h1v1h-1zM550 354h1v1h-1zM207 355h2v1h-2zM551 355h1v1h-1zM205 356h2v1h-2zM204 357h1v1h-1zM202 358h2v1h-2zM201 359h1v1h-1zM199 360h1v1h-1zM197 361h2v1h-2zM195 362h2v1h-2zM193 363h2v1h-2zM191 364h2v1h-2zM190 365h1v1h-1zM188 366h2v1h-2zM187 367h1v1h-1zM185 368h2v1h-2zM183 369h2v1h-2zM180 370h3v1h-3zM178 371h2v1h-2zM176 372h2v1h-2zM175 373h1v1h-1zM174 374h1v1h-1zM172 375h2v1h-2zM171 376h1v1h-1zM169 377h2v1h-2zM168 378h1v1h-1zM167 379h1v1h-1zM165 380h2v1h-2zM164 381h1v1h-1zM163 382h1v1h-1zM162 383h1v1h-1zM161 384h1v1h-1zM159 385h2v1h-2zM158 386h1v1h-1zM156 387h2v1h-2zM155 388h1v1h-1zM153 389h2v1h-2zM152 390h1v1h-1zM151 391h1v1h-1zM150 392h1v1h-1zM148 393h2v1h-2zM147 394h1v1h-1zM146 395h1v1h-1zM144 396h2v1h-2zM143 397h1v1h-1zM142 398h1v1h-1zM140 399h2v1h-2zM138 400h2v1h-2zM136 401h2v1h-2zM134 402h2v1h-2zM132 403h2v1h-2zM130 404h2v1h-2zM128 405h2v1h-2zM126 406h2v1h-2zM125 407h1v1h-1zM123 408h2v1h-2zM121 409h2v1h-2zM120 410h1v1h-1zM118 411h2v1h-2zM115 412h3v1h-3zM113 413h2v1h-2zM111 414h2v1h-2zM109 415h1v1h-1zM107 416h2v1h-2zM105 417h2v1h-2zM104 418h1v1h-1zM102 419h1v1h-1zM100 420h2v1h-2zM98 421h2v1h-2zM97 422h1v1h-1zM95 423h2v1h-2zM94 424h1v1h-1zM93 425h1v1h-1zM92 426h1v1h-1zM91 427h1v1h-1zM89 428h2v1h-2zM87 429h2v1h-2zM86 430h1v1h-1zM85 431h1v1h-1zM84 432h1v1h-1zM83 433h1v1h-1zM82 434h1v1h-1zM81 435h1v1h-1zM80 436h1v1h-1zM79 437h1v1h-1zM78 438h1v1h-1zM77 439h1v1h-1zM76 440h1v1h-1zM75 441h1v1h-1zM74 442h1v1h-1zM73 443h1v1h-1zM71 444h2v1h-2zM70 445h1v1h-1zM70 446h1v1h-1zM69 447h1v1h-1zM68 448h1v1h-1zM67 449h1v1h-1zM66 450h1v1h-1zM65 451h1v1h-1zM65 452h1v1h-1zM64 453h1v1h-1zM63 454h1v1h-1zM62 455h1v1h-1zM61 456h1v1h-1zM60 457h1v1h-1zM59 458h1v1h-1zM58 459h1v1h-1zM57 460h1v1h-1zM56 461h1v1h-1zM55 462h1v1h-1zM54 463h1v1h-1zM53 464h1v1h-1zM52 465h1v1h-1zM51 466h1v1h-1zM49 467h2v1h-2zM48 468h1v1h-1zM47 469h1v1h-1zM46 470h1v1h-1zM45 471h1v1h-1zM45 472h1v1h-1zM44 473h1v1h-1zM43 474h1v1h-1zM42 475h1v1h-1zM41 476h1v1h-1zM40 477h1v1h-1zM39 478h1v1h-1zM38 479h1v1h-1zM36 480h2v1h-2zM35 481h1v1h-1zM33 482h2v1h-2zM32 483h1v1h-1zM30 484h2v1h-2z"/>
<path fill="#74c6b8" d="M489 112h11v1h-11zM485 113h4v1h-4zM501 113h2v1h-2zM482 114h3v1h-3zM503 114h1v1h-1zM477 115h5v1h-5zM504 115h1v1h-1zM471 116h6v1h-6zM505 116h2v1h-2zM411 117h5v1h-5zM445 117h7v1h-7zM465 117h6v1h-6zM507 117h2v1h-2zM408 118h3v1h-3zM416 118h5v1h-5zM440 118h5v1h-5zM452 118h13v1h-13zM509 118h1v1h-1zM406 119h2v1h-2zM421 119h19v1h-19zM511 119h1v1h-1zM521 119h14v1h-14zM404 120h1v1h-1zM512 120h2v1h-2zM519 120h2v1h-2zM536 120h2v1h-2zM402 121h2v1h-2zM515 121h4v1h-4zM538 121h1v1h-1zM400 122h2v1h-2zM539 122h1v1h-1zM399 123h1v1h-1zM540 123h1v1h-1zM397 124h2v1h-2zM541 124h2v1h-2zM396 125h1v1h-1zM543 125h1v1h-1zM395 126h1v1h-1zM543 126h1v1h-1zM393 127h2v1h-2zM544 127h1v1h-1zM391 128h2v1h-2zM544 128h1v1h-1zM390 129h1v1h-1zM545 129h1v1h-1zM389 130h1v1h-1zM546 130h1v1h-1zM387 131h2v1h-2zM547 131h1v1h-1zM385 132h2v1h-2zM547 132h1v1h-1zM380 133h5v1h-5zM548 133h1v1h-1zM376 134h4v1h-4zM549 134h1v1h-1zM372 135h4v1h-4zM550 135h1v1h-1zM371 136h1v1h-1zM551 136h1v1h-1zM368 137h2v1h-2zM551 137h1v1h-1zM366 138h2v1h-2zM552 138h1v1h-1zM365 139h1v1h-1zM553 139h1v1h-1zM363 140h1v1h-1zM554 140h1v1h-1zM361 141h2v1h-2zM555 141h1v1h-1zM359 142h2v1h-2zM555 142h1v1h-1zM358 143h1v1h-1zM556 143h1v1h-1zM356 144h2v1h-2zM557 144h2v1h-2zM355 145h1v1h-1zM559 145h1v1h-1zM354 146h1v1h-1zM559 146h1v1h-1zM351 147h3v1h-3zM560 147h1v1h-1zM349 148h2v1h-2zM561 148h1v1h-1zM348 149h1v1h-1zM562 149h1v1h-1zM344 150h4v1h-4zM563 150h1v1h-1zM341 151h3v1h-3zM564 151h1v1h-1zM338 152h2v1h-2zM565 152h1v1h-1zM336 153h2v1h-2zM566 153h1v1h-1zM333 154h3v1h-3zM567 154h1v1h-1zM332 155h1v1h-1zM568 155h1v1h-1zM331 156h1v1h-1zM569 156h1v1h-1zM330 157h1v1h-1zM570 157h1v1h-1zM330 158h1v1h-1zM571 158h1v1h-1zM328 159h2v1h-2zM572 159h1v1h-1zM327 160h1v1h-1zM573 160h1v1h-1zM326 161h1v1h-1zM574 161h1v1h-1zM325 162h1v1h-1zM575 162h2v1h-2zM324 163h1v1h-1zM578 163h1v1h-1zM323 164h1v1h-1zM322 165h1v1h-1zM321 166h1v1h-1zM320 167h1v1h-1zM319 168h1v1h-1zM318 169h1v1h-1zM316 170h2v1h-2zM315 171h1v1h-1zM314 172h1v1h-1zM314 173h1v1h-1zM312 174h2v1h-2zM311 175h1v1h-1zM308 176h2v1h-2zM305 177h3v1h-3zM304 178h1v1h-1zM301 179h3v1h-3zM300 180h1v1h-1zM298 181h2v1h-2zM295 182h3v1h-3zM294 183h1v1h-1zM291 184h3v1h-3zM290 185h1v1h-1zM289 186h1v1h-1zM287 187h2v1h-2zM285 188h2v1h-2zM284 189h1v1h-1zM282 190h2v1h-2zM281 191h1v1h-1zM280 192h1v1h-1zM278 193h2v1h-2zM276 194h2v1h-2zM275 195h1v1h-1zM273 196h2v1h-2zM272 197h1v1h-1zM270 198h2v1h-2zM269 199h1v1h-1zM266 200h3v1h-3zM265 201h1v1h-1zM262 202h2v1h-2zM260 203h2v1h-2zM258 204h2v1h-2zM256 205h2v1h-2zM254 206h2v1h-2zM253 207h1v1h-1zM251 208h2v1h-2zM250 209h1v1h-1zM249 210h1v1h-1zM248 211h1v1h-1zM246 212h2v1h-2zM245 213h1v1h-1zM244 214h1v1h-1zM243 215h1v1h-1zM242 216h1v1h-1zM241 217h1v1h-1zM241 218h1v1h-1zM240 219h1v1h-1zM239 220h1v1h-1zM238 221h1v1h-1zM237 222h1v1h-1zM236 223h1v1h-1zM235 224h1v1h-1zM234 225h1v1h-1zM233 226h1v1h-1zM232 227h1v1h-1zM231 228h1v1h-1zM230 229h1v1h-1zM230 230h1v1h-1zM229 231h1v1h-1zM227 232h2v1h-2zM226 233h1v1h-1zM225 234h1v1h-1zM224 235h1v1h-1zM223 236h1v1h-1zM221 237h2v1h-2zM220 238h1v1h-1zM219 239h1v1h-1zM218 240h1v1h-1zM217 241h1v1h-1zM215 242h2v1h-2zM214 243h1v1h-1zM213 244h1v1h-1zM212 245h1v1h-1zM211 246h1v1h-1zM210 247h1v1h-1zM209 248h1v1h-1zM207 249h2v1h-2zM206 250h1v1h-1zM205 251h1v1h-1zM204 252h1v1h-1zM203 253h1v1h-1zM202 254h1v1h-1zM200 255h2v1h-2zM199 256h1v1h-1zM198 257h1v1h-1zM197 258h1v1h-1zM195 259h2v1h-2zM194 260h1v1h-1zM193 261h1v1h-1zM192 262h1v1h-1zM191 263h1v1h-1zM190 264h1v1h-1zM189 265h1v1h-1zM188 266h1v1h-1zM187 267h1v1h-1zM186 268h1v1h-1zM185 269h1v1h-1zM185 270h1v1h-1zM184 271h1v1h-1zM183 272h1v1h-1zM182 273h1v1h-1zM181 274h1v1h-1zM180 275h1v1h-1zM180 276h1v1h-1zM179 277h1v1h-1zM178 278h1v1h-1zM177 279h1v1h-1zM176 280h1v1h-1zM175 281h1v1h-1zM174 282h1v1h-1zM173 283h1v1h-1zM173 284h1v1h-1zM172 285h1v1h-1zM171 286h1v1h-1zM170 287h1v1h-1zM169 288h1v1h-1zM168 289h1v1h-1zM168 290h1v1h-1zM167 291h1v1h-1zM166 292h1v1h-1zM165 293h1v1h-1zM165 294h1v1h-1zM164 295h1v1h-1zM162 296h2v1h-2zM161 297h1v1h-1zM161 298h1v1h-1zM160 299h1v1h-1zM159 300h1v1h-1zM159 301h1v1h-1zM158 302h1v1h-1zM157 303h1v1h-1zM156 304h1v1h-1zM155 305h1v1h-1zM155 306h1v1h-1zM154 307h1v1h-1zM153 308h1v1h-1zM153 309h1v1h-1zM152 310h1v1h-1zM151 311h1v1h-1zM150 312h1v1h-1zM150 313h1v1h-1zM149 314h1v1h-1zM148 315h1v1h-1zM148 316h1v1h-1zM147 317h1v1h-1zM146 318h1v1h-1zM145 319h1v1h-1zM144 320h1v1h-1zM143 321h1v1h-1zM143 322h1v1h-1zM142 323h1v1h-1zM141 324h1v1h-1zM141 325h1v1h-1zM140 326h1v1h-1zM140 327h1v1h-1zM139 328h1v1h-1zM138 329h1v1h-1zM137 330h1v1h-1zM136 331h1v1h-1zM136 332h1v1h-1zM135 333h1v1h-1zM134 334h1v1h-1zM133 335h1v1h-1zM133 336h1v1h-1zM132 337h1v1h-1zM131 338h1v1h-1zM131 339h1v1h-1zM130 340h1v1h-1zM129 341h1v1h-1zM128 342h1v1h-1zM128 343h1v1h-1zM127 344h1v1h-1zM126 345h1v1h-1zM126 346h1v1h-1zM126 347h1v1h-1zM125 348h1v1h-1zM124 349h1v1h-1zM123 351h1v1h-1zM122 352h1v1h-1zM122 353h1v1h-1zM121 354h1v1h-1zM121 355h1v1h-1zM120 356h1v1h-1zM120 357h1v1h-1zM119 358h1v1h-1zM118 359h1v1h-1zM117 360h1v1h-1zM116 361h1v1h-1zM116 362h1v1h-1zM115 363h1v1h-1zM115 364h1v1h-1zM114 365h1v1h-1zM113 366h1v1h-1zM113 367h1v1h-1zM112 368h1v1h-1zM112 369h1v1h-1zM111 370h1v1h-1zM110 371h1v1h-1zM110 372h1v1h-1zM109 373h1v1h-1zM109 374h1v1h-1zM108 375h1v1h-1zM107 377h1v1h-1zM106 378h1v1h-1zM105 379h1v1h-1zM105 380h1v1h-1zM104 381h1v1h-1zM104 382h1v1h-1zM103 383h1v1h-1zM102 384h1v1h-1zM102 385h1v1h-1zM101 386h1v1h-1zM101 387h1v1h-1zM100 388h1v1h-1zM100 389h1v1h-1zM99 390h1v1h-1zM98 391h1v1h-1zM98 392h1v1h-1zM97 393h1v1h-1zM97 394h1v1h-1zM96 395h1v1h-1zM96 396h1v1h-1zM95 397h1v1h-1zM95 398h1v1h-1zM94 399h1v1h-1zM94 400h1v1h-1zM93 401h1v1h-1zM93 402h1v1h-1zM92 403h1v1h-1zM92 404h1v1h-1zM91 405h1v1h-1zM91 406h1v1h-1zM91 407h1v1h-1zM90 408h1v1h-1zM89 409h1v1h-1zM89 410h1v1h-1zM88 411h1v1h-1zM88 412h1v1h-1zM88 413h1v1h-1zM87 414h1v1h-1zM86 415h1v1h-1zM85 416h1v1h-1zM85 417h1v1h-1zM84 418h1v1h-1zM84 419h1v1h-1zM83 420h1v1h-1zM83 421h1v1h-1zM82 422h1v1h-1zM82 423h1v1h-1zM81 424h1v1h-1zM80 425h1v1h-1zM80 426h1v1h-1zM79 427h1v1h-1zM78 428h1v1h-1zM78 429h1v1h-1zM77 430h1v1h-1zM76 431h1v1h-1zM76 432h1v1h-1zM75 433h1v1h-1zM75 434h1v1h-1zM74 435h1v1h-1zM73 436h1v1h-1zM72 437h1v1h-1zM72 438h1v1h-1zM71 439h1v1h-1zM70 440h1v1h-1zM70 441h1v1h-1zM69 442h1v1h-1zM68 443h1v1h-1zM67 444h1v1h-1zM66 445h1v1h-1zM65 446h1v1h-1zM64 447h1v1h-1zM64 448h1v1h-1zM63 449h1v1h-1zM62 450h1v1h-1zM62 451h1v1h-1zM61 452h1v1h-1zM60 453h1v1h-1zM60 454h1v1h-1zM59 455h1v1h-1zM58 456h1v1h-1zM56 457h2v1h-2zM55 458h1v1h-1zM55 459h1v1h-1zM54 460h1v1h-1zM53 461h1v1h-1zM52 462h1v1h-1zM52 463h1v1h-1zM51 464h1v1h-1zM51 465h1v1h-1zM50 466h1v1h-1zM49 467h1v1h-1zM48 468h1v1h-1zM47 469h1v1h-1zM46 470h1v1h-1zM45 471h1v1h-1zM45 472h1v1h-1zM44 473h1v1h-1zM43 474h1v1h-1zM42 475h1v1h-1zM41 476h1v1h-1zM40 477h1v1h-1zM39 478h1v1h-1zM38 479h1v1h-1zM36 480h2v1h-2zM35 481h1v1h-1zM33 482h2v1h-2zM32 483h1v1h-1zM30 484h2v1h-2z"/>
</g>
</svg></body></html>
